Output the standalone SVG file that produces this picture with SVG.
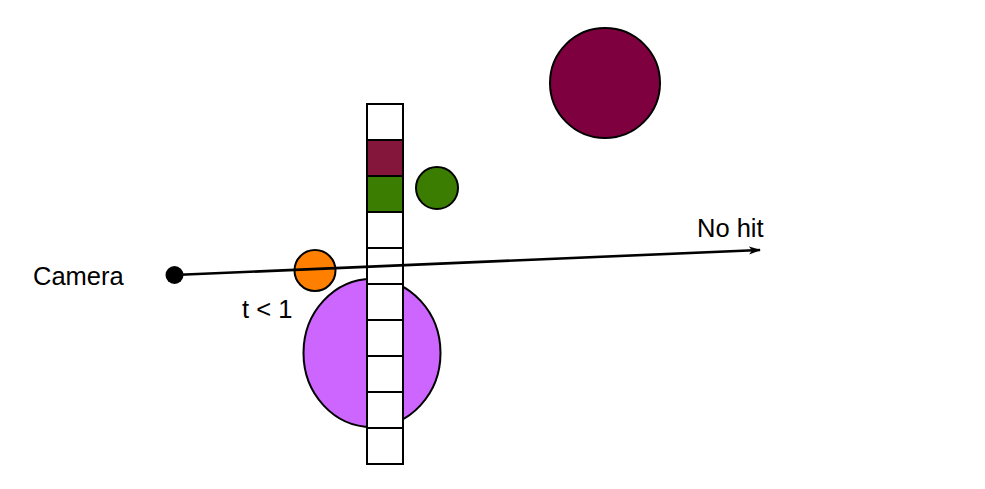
<svg xmlns="http://www.w3.org/2000/svg" width="985" height="489" viewBox="0 0 985 489">
<style>
.lbl{font-family:"Liberation Sans",Arial,sans-serif;font-size:25.5px;fill:#000}
.sh{stroke:#000;stroke-width:2}
.cell{fill:#fff;stroke:#000;stroke-width:2}
</style>
<defs>
<marker id="arr" markerWidth="12" markerHeight="10" refX="11" refY="5" orient="auto" markerUnits="userSpaceOnUse">
<path d="M0,1 L12,5 L0,9 L3,5 Z" fill="#000"/>
</marker>
</defs>
<rect width="985" height="489" fill="#fff"/>
<g id="bigsphere"><circle class="sh" cx="605" cy="83" r="55" fill="#7f003f"/></g>
<g id="purple"><ellipse class="sh" cx="372" cy="353" rx="68.5" ry="74" fill="#cc66ff"/></g>
<g id="green"><circle class="sh" cx="437" cy="188" r="21" fill="#3a7d00"/></g>
<g id="column">
<rect class="cell" x="367" y="104" width="36" height="36"/>
<rect class="cell" x="367" y="140" width="36" height="36" style="fill:#85163b"/>
<rect class="cell" x="367" y="176" width="36" height="36" style="fill:#3a7d00"/>
<rect class="cell" x="367" y="212" width="36" height="36"/>
<rect class="cell" x="367" y="248" width="36" height="36"/>
<rect class="cell" x="367" y="284" width="36" height="36"/>
<rect class="cell" x="367" y="320" width="36" height="36"/>
<rect class="cell" x="367" y="356" width="36" height="36"/>
<rect class="cell" x="367" y="392" width="36" height="36"/>
<rect class="cell" x="367" y="428" width="36" height="36"/>
</g>
<g id="orange"><circle class="sh" cx="315" cy="270.5" r="20.5" fill="#ff8000"/></g>
<g id="connectors">
<line x1="174" y1="275" x2="760" y2="250" stroke="#000" stroke-width="2.6" marker-end="url(#arr)"/>
</g>
<g id="camera">
<circle cx="174.5" cy="275" r="9" fill="#000"/>
<text class="lbl" x="33" y="285">Camera</text>
</g>
<g id="labels">
<text class="lbl" x="697" y="237">No hit</text>
<text class="lbl" x="242" y="318">t &lt; 1</text>
</g>
</svg>
